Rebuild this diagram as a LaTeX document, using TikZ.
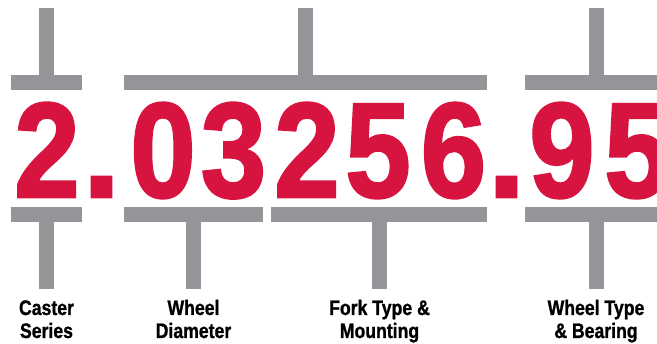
\documentclass[tikz,border=0pt]{standalone}
\usepackage{fontspec}
\usepackage{graphicx}
\setmainfont{Liberation Sans}
\newfontfamily\digitfont[FakeBold=2]{Liberation Sans Bold}
\newfontfamily\labelfont[FakeBold=1.2]{Liberation Sans Bold}
\definecolor{codered}{HTML}{D71440}
\definecolor{bargray}{HTML}{939598}
\begin{document}
\begin{tikzpicture}[x=1pt,y=-1pt,
  bar/.style={fill=bargray,draw=none},
  digit/.style={anchor=base,inner sep=0pt,text=codered,font=\digitfont\fontsize{135}{135}\selectfont},
  lbl/.style={anchor=base,inner sep=0pt,text=black,font=\labelfont\fontsize{21}{21}\selectfont}]
\useasboundingbox (0,0) rectangle (657,344);
% top brackets
\fill[bar] (11,75) rectangle (82,90);
\fill[bar] (39,8) rectangle (54,75);
\fill[bar] (124,75) rectangle (487,90);
\fill[bar] (298,8) rectangle (313,75);
\fill[bar] (525,75) rectangle (657,90);
\fill[bar] (589,8) rectangle (604,75);
% bottom brackets
\fill[bar] (11,207) rectangle (82,222);
\fill[bar] (39,222) rectangle (54,289);
\fill[bar] (124,207) rectangle (263,222);
\fill[bar] (186,222) rectangle (201,289);
\fill[bar] (271,207) rectangle (487,222);
\fill[bar] (372,222) rectangle (387,289);
\fill[bar] (525,207) rectangle (657,222);
\fill[bar] (589,222) rectangle (604,289);
% digits
\node[digit] (d1) at (47,197) {\scalebox{0.87}[1]{2}};
\node[digit] (p1) at (101.5,197) {\scalebox{1.0}[1]{.}};
\node[digit] (d2) at (163,197) {\scalebox{0.87}[1]{0}};
\node[digit] (d3) at (233.5,197) {\scalebox{0.87}[1]{3}};
\node[digit] (d4) at (307,197) {\scalebox{0.87}[1]{2}};
\node[digit] (d5) at (378,197) {\scalebox{0.87}[1]{5}};
\node[digit] (d6) at (453.5,197) {\scalebox{0.87}[1]{6}};
\node[digit] (p2) at (506.5,197) {\scalebox{1.0}[1]{.}};
\node[digit] (d7) at (562,197) {\scalebox{0.87}[1]{9}};
\node[digit] (d8) at (637,197) {\scalebox{0.87}[1]{5}};
% labels
\node[lbl] (l1a) at (46.5,315) {\scalebox{0.84}[1]{Caster}};
\node[lbl] (l1b) at (46.5,338) {\scalebox{0.84}[1]{Series}};
\node[lbl] (l2a) at (193.5,315) {\scalebox{0.84}[1]{Wheel}};
\node[lbl] (l2b) at (193.5,338) {\scalebox{0.84}[1]{Diameter}};
\node[lbl] (l3a) at (379.5,315) {\scalebox{0.84}[1]{Fork Type \&}};
\node[lbl] (l3b) at (379.5,338) {\scalebox{0.84}[1]{Mounting}};
\node[lbl] (l4a) at (596,315) {\scalebox{0.84}[1]{Wheel Type}};
\node[lbl] (l4b) at (596,338) {\scalebox{0.84}[1]{\& Bearing}};
\end{tikzpicture}
\end{document}
